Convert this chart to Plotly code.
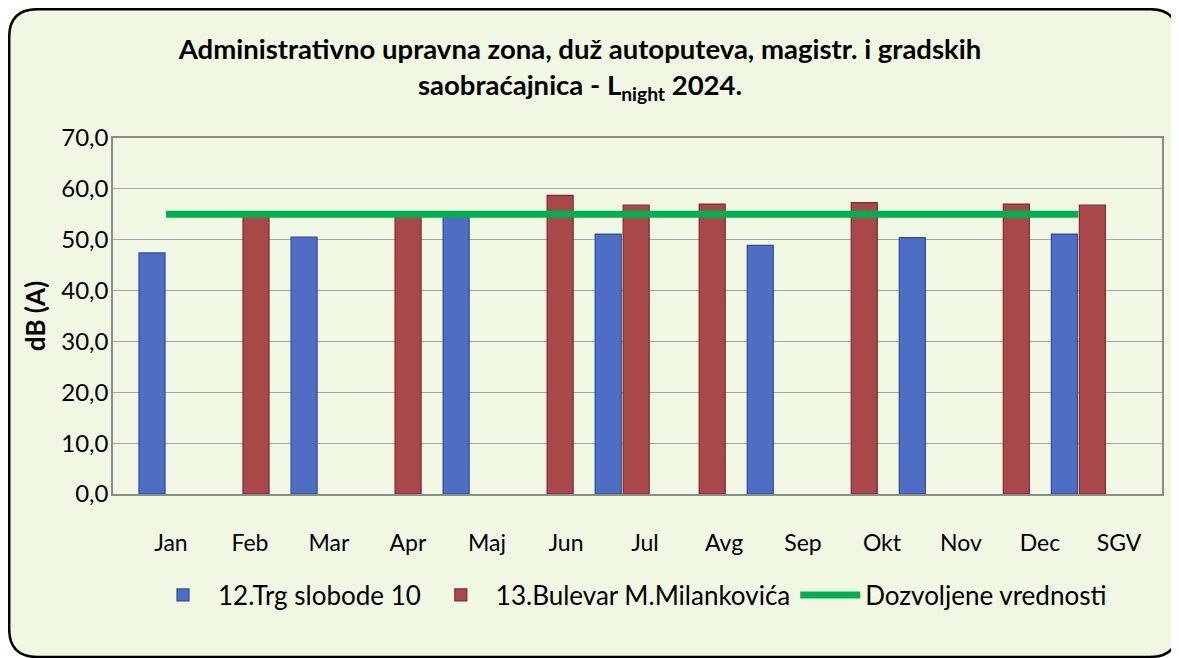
import plotly.graph_objects as go

months = ["Jan", "Feb", "Mar", "Apr", "Maj", "Jun", "Jul", "Avg", "Sep", "Okt", "Nov", "Dec", "SGV"]
trg_slobode = [47.4, None, 50.5, None, 54.6, None, 51.1, None, 48.9, None, 50.4, None, 51.1]
bulevar = [None, 54.9, None, 54.8, None, 58.7, 56.8, 57.0, None, 57.3, None, 57.0, 56.8]
limit = [55.0] * len(months)

name_trg = "12.Trg slobode 10"
name_bul = "13.Bulevar M.Milankovića"
name_lim = "Dozvoljene vrednosti"
y_ticks = [0, 10, 20, 30, 40, 50, 60, 70]

OFF = 8  # page body margin
W, H = 1171, 650
L, R, T, B = 105, 17, 130, 164
PW, PH = W - L - R, H - T - B


def px(xs):
    return (xs - OFF - L) / PW


def py(ys):
    return (H - B - (ys - OFF)) / PH


FONT = "Lato, Calibri, Carlito, sans-serif"

fig = go.Figure()
fig.add_trace(go.Bar(
    x=months, y=trg_slobode, name=name_trg,
    marker=dict(color="#4D6EC2", line=dict(color="#2F4C8C", width=1.2)),
))
fig.add_trace(go.Bar(
    x=months, y=bulevar, name=name_bul,
    marker=dict(color="#A94848", line=dict(color="#7A2C2C", width=1.2)),
))
fig.add_trace(go.Scatter(
    x=months, y=limit, name=name_lim, mode="lines",
    line=dict(color="#00B050", width=7),
))
# category label axis (labels sit slightly differently from the bars, as in the original)
fig.add_trace(go.Scatter(
    x=months, y=[None] * len(months), xaxis="x2", showlegend=False,
    hoverinfo="skip", mode="markers",
))

# outer rounded frame (screen coords)
x0, x1, y0, y1 = 9.2, 1178, 9.2, 657
r = 28
path = (
    f"M {px(x0 + r)} {py(y0)} L {px(x1 - r)} {py(y0)} "
    f"Q {px(x1)} {py(y0)} {px(x1)} {py(y0 + r)} L {px(x1)} {py(y1 - r)} "
    f"Q {px(x1)} {py(y1)} {px(x1 - r)} {py(y1)} L {px(x0 + r)} {py(y1)} "
    f"Q {px(x0)} {py(y1)} {px(x0)} {py(y1 - r)} L {px(x0)} {py(y0 + r)} "
    f"Q {px(x0)} {py(y0)} {px(x0 + r)} {py(y0)} Z"
)

fig.update_layout(
    width=W, height=H,
    margin=dict(l=L, r=R, t=T, b=B),
    paper_bgcolor="white",
    plot_bgcolor="white",
    separators=",.",
    barmode="group",
    bargap=0.264,
    bargroupgap=0.07,
    font=dict(family=FONT, color="black", size=18),
    title=dict(
        text="Administrativno upravna zona, duž autoputeva, magistr. i gradskih<br>"
             "saobraćajnica - L<sub>night</sub> 2024.",
        x=(580 - OFF) / W, xanchor="center", y=1 - (59 - OFF) / H, yanchor="middle",
        font=dict(family=FONT, size=27.5, color="black", weight="bold"),
    ),
    shapes=[dict(
        type="path", path=path, xref="paper", yref="paper", layer="below",
        fillcolor="#F0F8E4", line=dict(color="black", width=2.5),
    )],
    xaxis=dict(
        type="category", categoryorder="array", categoryarray=months,
        range=[-0.697, 13.10], showticklabels=False, showgrid=False,
        showline=True, linecolor="#8C8C8C", linewidth=1.5, mirror=True,
    ),
    xaxis2=dict(
        type="category", categoryorder="array", categoryarray=months,
        overlaying="x", anchor="y", side="bottom",
        range=[-0.733, 12.544], showgrid=False, showline=False,
        ticks="", ticklabelstandoff=33,
        tickfont=dict(family=FONT, size=23, color="black"),
    ),
    yaxis=dict(
        range=[0, 70], tickvals=y_ticks, tickformat=".1f",
        showgrid=True, gridcolor="#A6A6A6", gridwidth=1.3,
        showline=True, linecolor="#8C8C8C", linewidth=1.5, mirror=True,
        ticks="", ticklabelstandoff=-2,
        tickfont=dict(family=FONT, size=24, color="black"),
        title=dict(text="<b>dB (A)</b>", standoff=8,
                   font=dict(family=FONT, size=26, color="black")),
        zeroline=False,
    ),
    legend=dict(
        orientation="h", x=px(630), xanchor="center", y=py(595), yanchor="middle",
        font=dict(family=FONT, size=26, color="black"),
        bgcolor="rgba(0,0,0,0)", itemwidth=60, traceorder="normal",
    ),
)

fig.write_html("out.html")
